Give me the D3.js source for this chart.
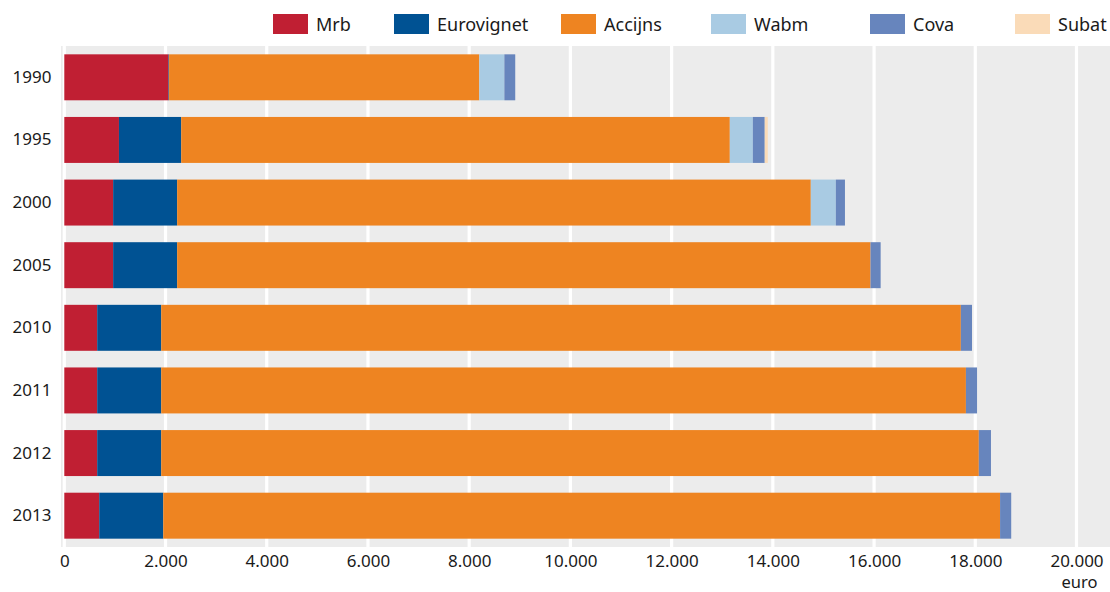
<!DOCTYPE html>
<html>
<head>
<meta charset="utf-8">
<script src="https://cdn.jsdelivr.net/npm/d3@7"></script>
<style>
  html, body { margin: 0; padding: 0; background: #ffffff; }
  svg { display: block; }
  text { font-family: "Noto Sans", "Open Sans", sans-serif; fill: #1a1a1a; }
</style>
</head>
<body>
<svg id="chart" width="1110" height="592"></svg>
<script>
// ---- data ----
const years = ["1990", "1995", "2000", "2005", "2010", "2011", "2012", "2013"];
const seriesNames = ["Mrb", "Eurovignet", "Accijns", "Wabm", "Cova", "Subat"];
const mrb        = [2060, 1080,   965,   965,   650,   650,   650,   690];
const eurovignet = [  10, 1230,  1265,  1265,  1265,  1265,  1265,  1265];
const accijns    = [6130, 10840, 12520, 13700, 15800, 15900, 16155, 16535];
const wabm       = [ 495,  455,   495,     0,     0,     0,     0,     0];
const cova       = [ 215,  235,   180,   200,   220,   220,   240,   220];
const subat      = [   0,   60,     0,     0,     0,     0,     0,     0];
const xTickValues = [0, 2000, 4000, 6000, 8000, 10000, 12000, 14000, 16000, 18000, 20000];
const unitLabel = "euro";
const colors = ["#c01f33", "#005293", "#ee8421", "#a9cbe3", "#6785bd", "#fadbb8"];

// ---- build table ----
const seriesValues = [mrb, eurovignet, accijns, wabm, cova, subat];
const table = years.map((y, i) => {
  const row = { year: y };
  seriesNames.forEach((s, j) => { row[s] = seriesValues[j][i]; });
  return row;
});

const svg = d3.select("#chart");
const plot = { left: 64.3, right: 1076.5, top: 46, bottom: 547 };

const x = d3.scaleLinear().domain([0, 20000]).range([plot.left, plot.right]);
const y = d3.scaleBand().domain(years).range([plot.top, plot.bottom])
  .paddingInner(0.266).paddingOuter(0.133);
const color = d3.scaleOrdinal().domain(seriesNames).range(colors);

// background
svg.append("rect")
  .attr("x", 61).attr("y", plot.top)
  .attr("width", 1110 - 61).attr("height", plot.bottom - plot.top)
  .attr("fill", "#ececec");

// gridlines
svg.append("g").selectAll("line").data(xTickValues).join("line")
  .attr("x1", d => x(d)).attr("x2", d => x(d))
  .attr("y1", plot.top).attr("y2", plot.bottom)
  .attr("stroke", "#ffffff").attr("stroke-width", 3.2);

// stacked bars
const stack = d3.stack().keys(seriesNames);
const layers = stack(table);
svg.append("g").selectAll("g").data(layers).join("g")
  .attr("fill", d => color(d.key))
  .selectAll("rect").data(d => d).join("rect")
  .attr("x", d => x(d[0]))
  .attr("width", d => Math.max(0, x(d[1]) - x(d[0])))
  .attr("y", d => y(d.data.year))
  .attr("height", y.bandwidth());

// y axis labels
const yAxis = d3.axisLeft(y).tickSize(0).tickPadding(0);
const yg = svg.append("g").attr("transform", "translate(51.5,0)").call(yAxis);
yg.select(".domain").remove();
yg.selectAll("text").attr("font-size", "17px")
  .style("font-family", "'Noto Sans', sans-serif").attr("fill", "#1a1a1a");

// x axis labels
const fmt = d => d3.format(",")(d).replace(/,/g, ".");
const xAxis = d3.axisBottom(x).tickValues(xTickValues).tickFormat(fmt).tickSize(0).tickPadding(0);
const xg = svg.append("g").attr("transform", "translate(0,554.5)").call(xAxis);
xg.select(".domain").remove();
xg.selectAll("text").attr("font-size", "17px").attr("dy", "0.71em")
  .style("font-family", "'Noto Sans', sans-serif").attr("fill", "#1a1a1a");

svg.append("text")
  .attr("x", x(20000) + 3).attr("y", 588)
  .attr("text-anchor", "middle")
  .attr("font-size", "16.5px")
  .text(unitLabel);

// legend
const legendX = [273, 394, 561, 711, 870, 1015];
const lg = svg.append("g").selectAll("g").data(seriesNames).join("g")
  .attr("transform", (d, i) => `translate(${legendX[i]},14)`);
lg.append("rect").attr("width", 35).attr("height", 20).attr("fill", d => color(d));
lg.append("text").attr("x", 43).attr("y", 16.5).attr("font-size", "18px").text(d => d);
</script>
</body>
</html>
